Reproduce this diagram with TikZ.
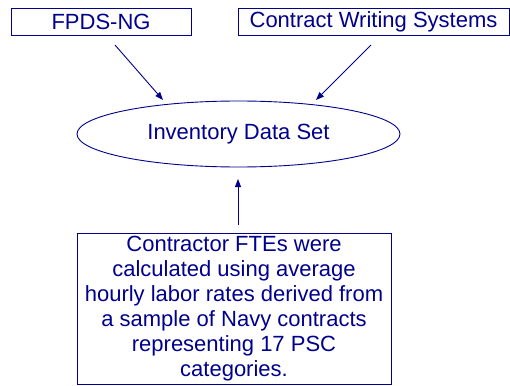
\documentclass[tikz,border=0pt]{standalone}
\usepackage{fontspec}
\setmainfont{Liberation Sans}
\usetikzlibrary{shapes.geometric,arrows.meta}
\definecolor{navy}{RGB}{0,0,140}
\begin{document}
\begin{tikzpicture}[x=1pt,y=-1pt,
  box/.style={draw=navy,line width=0.9pt,text=navy,inner sep=0pt,font=\fontsize{22}{25}\selectfont},
  arr/.style={draw=navy,line width=0.9pt,-{Triangle[length=8pt,width=6pt]}}]
\useasboundingbox (0,0) rectangle (510,385);
\node[box,minimum width=180pt,minimum height=27pt] (fpds) at (101,21.5) {FPDS-NG};
\node[box,minimum width=271pt,minimum height=27pt] (cws) at (373.5,21.5) {Contract Writing Systems};
\node[box,ellipse,minimum width=323pt,minimum height=66pt] (ids) at (238.5,134) {Inventory Data Set};
\node[box,minimum width=314pt,minimum height=151pt,align=center] (fte) at (234,308.5)
  {Contractor FTEs were\\calculated using average\\hourly labor rates derived from\\a sample of Navy contracts\\representing 17 PSC\\categories.};
\coordinate (a1s) at (115,45);
\coordinate (a1e) at (163,100);
\coordinate (a2s) at (371,45);
\coordinate (a2e) at (316,100);
\coordinate (a3s) at (238,225);
\coordinate (a3e) at (238,179);
\draw[arr] (a1s) -- (a1e);
\draw[arr] (a2s) -- (a2e);
\draw[arr] (a3s) -- (a3e);
\end{tikzpicture}
\end{document}
